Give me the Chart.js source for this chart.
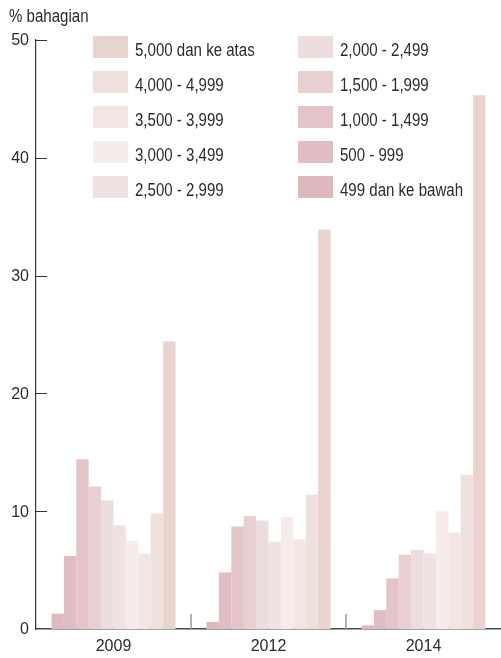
<!DOCTYPE html>
<html>
<head>
<meta charset="utf-8">
<script src="https://cdn.jsdelivr.net/npm/chart.js@4.4.1/dist/chart.umd.min.js"></script>
<style>
  html, body { margin: 0; padding: 0; background: #ffffff; }
  #wrap { position: relative; width: 501px; height: 658px; overflow: hidden; }
  #c { position: absolute; left: 0; top: 0; }
  .lg-sw { position: absolute; width: 35px; height: 22px; }
  .lg-tx { position: absolute; height: 22px; line-height: 22px; white-space: nowrap;
           font-family: 'Liberation Sans Narrow', 'Arial Narrow', 'Liberation Sans', sans-serif;
           font-size: 17.5px; color: #2b2b2b; transform: scaleX(0.86); transform-origin: 0 50%; }
  #unit { position: absolute; left: 9px; top: 5px; line-height: 22px; white-space: nowrap;
          font-family: 'Liberation Sans Narrow', 'Arial Narrow', 'Liberation Sans', sans-serif;
          font-size: 17.5px; color: #2b2b2b; transform: scaleX(0.86); transform-origin: 0 50%; }
</style>
</head>
<body>
<div id="wrap">
  <canvas id="c" width="501" height="658"></canvas>
  <div id="unit">% bahagian</div>
</div>
<script>
// ---- data ----
const years = ['2009', '2012', '2014'];
const seriesNames = ['499 dan ke bawah', '500 - 999', '1,000 - 1,499', '1,500 - 1,999', '2,000 - 2,499',
                     '2,500 - 2,999', '3,000 - 3,499', '3,500 - 3,999', '4,000 - 4,999', '5,000 dan ke atas'];
const v499   = [1.3, 0.6, 0.3];
const v500   = [6.2, 4.8, 1.6];
const v1000  = [14.4, 8.7, 4.3];
const v1500  = [12.1, 9.6, 6.3];
const v2000  = [10.9, 9.2, 6.7];
const v2500  = [8.8, 7.4, 6.4];
const v3000  = [7.5, 9.5, 10.0];
const v3500  = [6.4, 7.6, 8.2];
const v4000  = [9.8, 11.4, 13.1];
const v5000  = [24.4, 33.9, 45.3];
const yTicks = [0, 10, 20, 30, 40, 50];

const seriesValues = [v499, v500, v1000, v1500, v2000, v2500, v3000, v3500, v4000, v5000];
const seriesColors = ['#dfb8be', '#e0bdc3', '#e3c4c8', '#e8cfd0', '#ecdcdd',
                      '#f0e2e2', '#f6ecea', '#f3e6e2', '#efe0dc', '#e8d4cd'];

const FONT = "'Liberation Sans Narrow', 'Arial Narrow', 'Liberation Sans', sans-serif";

// ---- legend (HTML) : left column 5,000..2,500 ; right column 2,000..499 ----
const wrap = document.getElementById('wrap');
const legendOrder = seriesNames.map((n, i) => i).reverse();
legendOrder.forEach((si, k) => {
  const col = k < 5 ? 0 : 1;
  const row = k % 5;
  const left = col === 0 ? 93 : 298;
  const top = 36 + row * 35;
  const sw = document.createElement('div');
  sw.className = 'lg-sw';
  sw.style.left = left + 'px';
  sw.style.top = top + 'px';
  sw.style.background = seriesColors[si];
  wrap.appendChild(sw);
  const tx = document.createElement('div');
  tx.className = 'lg-tx';
  tx.style.left = (left + 42) + 'px';
  tx.style.top = (top + 3) + 'px';
  tx.textContent = seriesNames[si];
  wrap.appendChild(tx);
});

// ---- inward tick marks & category separators ----
const tickPlugin = {
  id: 'inwardTicks',
  afterDatasetsDraw(chart) {
    const ctx = chart.ctx;
    const y = chart.scales.y, x = chart.scales.x;
    const area = chart.chartArea;
    ctx.save();
    ctx.strokeStyle = '#333333';
    ctx.lineWidth = 1;
    yTicks.forEach(v => {
      if (v === 0) return;
      const py = Math.round(y.getPixelForValue(v)) + 0.5;
      ctx.beginPath();
      ctx.moveTo(area.left, py);
      ctx.lineTo(area.left + 11, py);
      ctx.stroke();
    });
    ctx.strokeStyle = '#9a9a9a';
    ctx.lineWidth = 1.5;
    for (let i = 0; i < years.length - 1; i++) {
      const px = (x.getPixelForValue(i) + x.getPixelForValue(i + 1)) / 2;
      ctx.beginPath();
      ctx.moveTo(px, area.bottom);
      ctx.lineTo(px, area.bottom - 15);
      ctx.stroke();
    }
    ctx.restore();
  }
};

new Chart(document.getElementById('c'), {
  type: 'bar',
  data: {
    labels: years,
    datasets: seriesNames.map((n, i) => ({
      label: n,
      data: seriesValues[i],
      backgroundColor: seriesColors[i],
      borderWidth: 0,
      categoryPercentage: 0.8,
      barPercentage: 1.0
    }))
  },
  options: {
    responsive: false,
    animation: false,
    devicePixelRatio: 1,
    layout: { padding: { top: 40, right: 0, left: 0, bottom: 0 } },
    plugins: { legend: { display: false }, tooltip: { enabled: false }, title: { display: false } },
    scales: {
      x: {
        grid: { display: false, drawTicks: false },
        border: { display: true, color: '#4a4a4a', width: 1.5 },
        ticks: { font: { family: FONT, size: 16 }, color: '#2b2b2b', padding: 8, maxRotation: 0 },
        afterFit(s) { s.height = 29; }
      },
      y: {
        min: 0, max: 50,
        afterBuildTicks(s) { s.ticks = yTicks.map(v => ({ value: v })); },
        grid: { display: false, drawTicks: false },
        border: { display: true, color: '#333333', width: 1.2 },
        ticks: { font: { family: FONT, size: 16 }, color: '#2b2b2b', padding: 7, labelOffset: 1 },
        afterFit(s) { s.width = 36; }
      }
    }
  },
  plugins: [tickPlugin]
});
</script>
</body>
</html>
